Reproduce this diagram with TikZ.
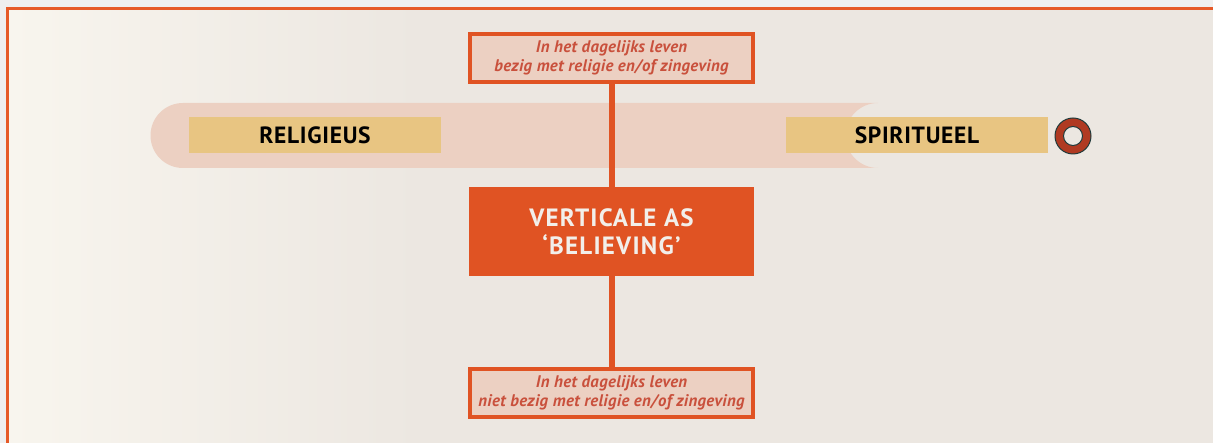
\documentclass[tikz,border=0pt]{standalone}
\usepackage{fontspec}
\setmainfont{PT Sans}
\usetikzlibrary{calc}
\definecolor{pagegrey}{HTML}{EFEFEF}
\definecolor{frameorange}{HTML}{E65A28}
\definecolor{bgleft}{HTML}{F8F5EE}
\definecolor{bgright}{HTML}{ECE7E1}
\definecolor{bandpink}{HTML}{ECD0C2}
\definecolor{labelgold}{HTML}{E8C582}
\definecolor{axisorange}{HTML}{E05323}
\definecolor{notered}{HTML}{C9503C}
\definecolor{ringred}{HTML}{B03A22}
\definecolor{ringline}{HTML}{1F3A3A}
\definecolor{paletext}{HTML}{F2EFEA}
\tikzset{
  notebox/.style={draw=axisorange, line width=3.2pt, fill=bandpink,
    minimum width=283pt, minimum height=48pt, inner sep=0pt,
    align=center, text=notered,
    font=\bfseries\itshape\addfontfeature{LetterSpace=2}\fontsize{16.8}{19}\selectfont},
  axisbox/.style={fill=axisorange, minimum width=285pt, minimum height=89pt,
    inner sep=0pt, align=center, text=paletext,
    font=\bfseries\addfontfeature{LetterSpace=5}\fontsize{25}{28}\selectfont},
  polebox/.style={fill=labelgold, minimum height=36pt, inner sep=0pt,
    font=\bfseries\addfontfeature{LetterSpace=3}\fontsize{23.5}{26}\selectfont},
  axisline/.style={draw=axisorange, line width=6pt}
}
\begin{document}
\begin{tikzpicture}[x=1pt, y=-1pt]
\useasboundingbox (0,0) rectangle (1213,443);
% page and framed panel
\fill[pagegrey] (0,0) rectangle (1213,443);
\shade[left color=bgleft, right color=bgright] (7,8) rectangle (420,443);
\fill[bgright] (419,8) rectangle (1213,443);
\draw[frameorange, line width=3pt] (7.5,443) -- (7.5,8.5) -- (1213,8.5);
% horizontal band, rounded at the left, hollowed at the right
\fill[bandpink] (183,103) -- (878,103)
  arc[start angle=-90, end angle=-270, radius=32.5]
  -- (183,168) arc[start angle=90, end angle=270, radius=32.5] -- cycle;
% pole labels
\node[polebox, minimum width=252pt] (rel) at (315,135) {RELIGIEUS};
\node[polebox, minimum width=262pt] (spi) at (917,135) {SPIRITUEEL};
% ring marker
\node[circle, draw=ringline, line width=1pt, fill=ringred,
  minimum size=36pt, inner sep=0pt] (ring) at (1073,136) {};
\node[circle, draw=ringline, line width=1pt, fill=bgright,
  minimum size=19pt, inner sep=0pt] (ringhole) at (ring.center) {};
% vertical axis
\node[notebox] (top) at (611.5,58) {In het dagelijks leven\\bezig met religie en/of zingeving};
\node[axisbox] (main) at (611.5,231.5) {VERTICALE AS\\‘BELIEVING’};
\node[notebox] (bottom) at (611.5,393) {In het dagelijks leven\\niet bezig met religie en/of zingeving};
\draw[axisline] (top) -- (main);
\draw[axisline] (main) -- (bottom);
\end{tikzpicture}
\end{document}
